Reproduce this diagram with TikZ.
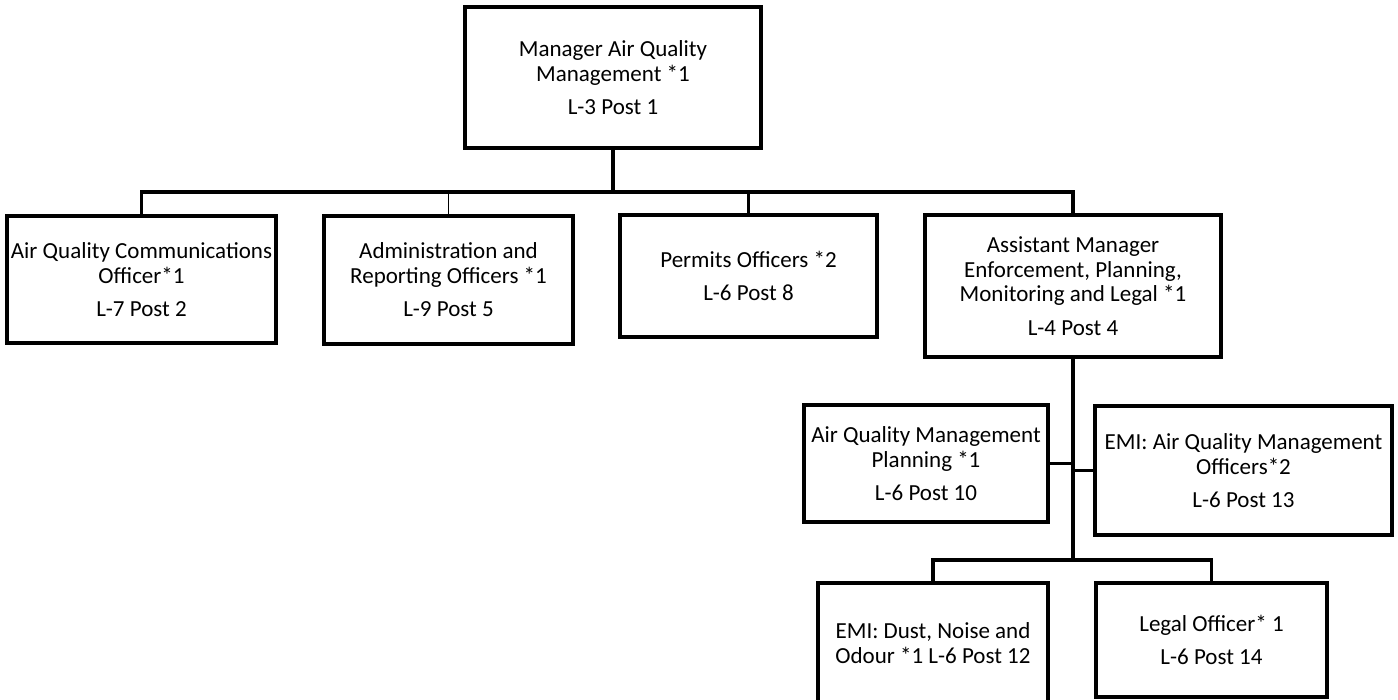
\documentclass[tikz,border=0pt]{standalone}
\usepackage{fontspec}
\setmainfont{Carlito}
\begin{document}
\begin{tikzpicture}[x=1pt,y=-1pt,
  post/.style={draw=black, line width=3.5pt, inner sep=0pt, align=center,
    font=\fontsize{23}{24.8}\selectfont},
  link/.style={draw=black, line width=3.5pt},
  thinlink/.style={draw=black, line width=1.2pt},
  headlink/.style={draw=black, line width=4.5pt}]
\useasboundingbox (0,0) rectangle (1398,700);
\clip (0,0) rectangle (1398,700);

% top of the structure
\node[post, minimum width=296pt, minimum height=141pt] (top) at (613,77.5)
  {Manager Air Quality\\Management *1\\[8.5pt]L-3 Post 1};

% first reporting level
\node[post, minimum width=269pt, minimum height=127pt] (b1) at (141.5,279.5)
  {Air Quality Communications\\Officer*1\\[8.5pt]L-7 Post 2};
\node[post, minimum width=249pt, minimum height=128pt] (b2) at (448.5,280)
  {Administration and\\Reporting Officers *1\\[8.5pt]L-9 Post 5};
\node[post, minimum width=257pt, minimum height=122pt] (b3) at (748.5,276)
  {Permits Officers *2\\[8.5pt]L-6 Post 8};
\node[post, minimum width=296pt, minimum height=142pt] (b4) at (1073,286)
  {Assistant Manager\\Enforcement, Planning,\\Monitoring and Legal *1\\[8.5pt]L-4 Post 4};

% under the assistant manager
\node[post, minimum width=244pt, minimum height=117pt] (b5) at (926,463.5)
  {Air Quality Management\\Planning *1\\[8.5pt]L-6 Post 10};
\node[post, minimum width=297pt, minimum height=129pt] (b6) at (1243.5,470.5)
  {EMI: Air Quality Management\\Officers*2\\[8.5pt]L-6 Post 13};
\node[post, minimum width=230pt, minimum height=120pt] (b7) at (933,643)
  {EMI: Dust, Noise and\\Odour *1 L-6 Post 12};
\node[post, minimum width=231pt, minimum height=114pt] (b8) at (1211.5,640)
  {Legal Officer* 1\\[8.5pt]L-6 Post 14};

% connectors
\coordinate (hub) at (613,192);
\coordinate (hubb) at (1073,560);
\draw[headlink] (top.south) -- (hub);
\draw[link] (b1.north) -- (b1.north |- hub) -- (b4.north |- hub) -- (b4.north);
\draw[thinlink] (b2.north) -- (b2.north |- hub);
\draw[link] (b3.north) -- (b3.north |- hub);
\draw[link] (b4.south) -- (hubb);
\draw[link] (b5.east) -- (b5.east -| hubb);
\draw[link] (b6.west) -- (b6.west -| hubb);
\draw[link] (b7.north) -- (b7.north |- hubb) -- (b8.north |- hubb) -- (b8.north);
\end{tikzpicture}
\end{document}
